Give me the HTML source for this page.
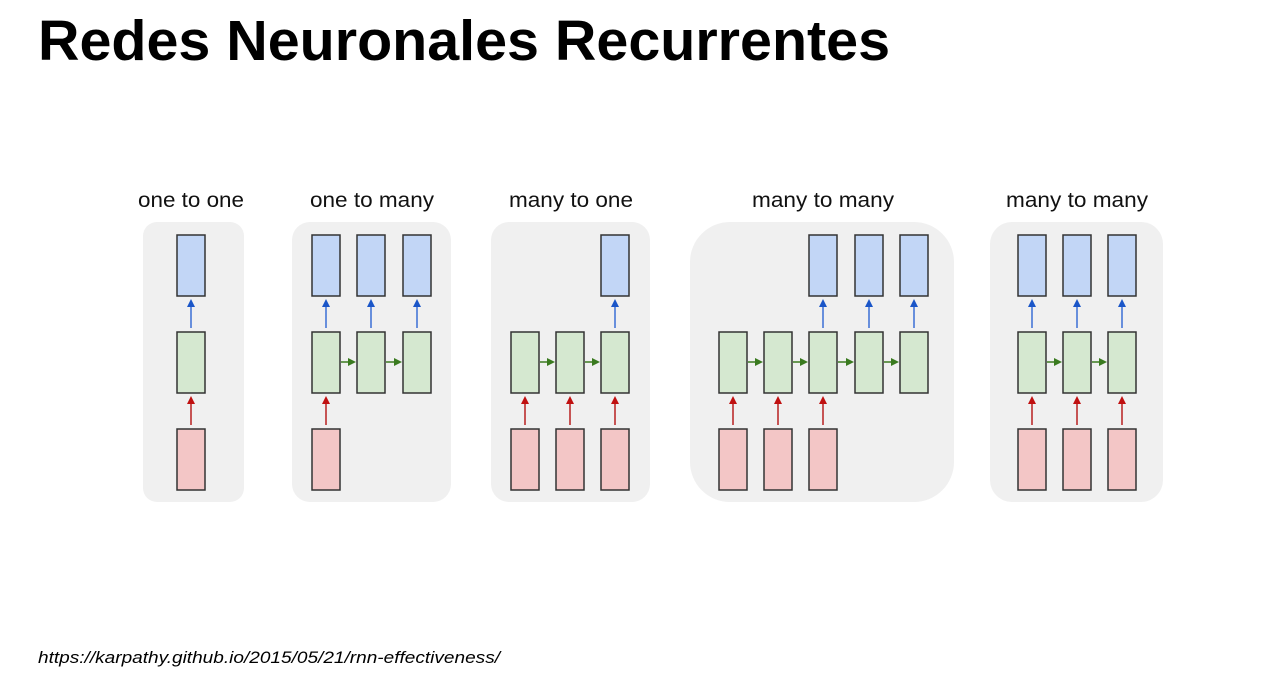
<!DOCTYPE html>
<html><head><meta charset="utf-8"><style>
body{margin:0;background:#fff;}
svg{display:block;}
</style></head><body>
<svg width="1286" height="687" viewBox="0 0 1286 687" xmlns="http://www.w3.org/2000/svg">
<defs>
<marker id="ab" markerWidth="8" markerHeight="8" refX="4" refY="4" orient="auto" markerUnits="userSpaceOnUse"><path d="M0,0 L8,4 L0,8z" fill="#1a56c8"/></marker>
<marker id="ar" markerWidth="8" markerHeight="8" refX="4" refY="4" orient="auto" markerUnits="userSpaceOnUse"><path d="M0,0 L8,4 L0,8z" fill="#c01010"/></marker>
<marker id="ag" markerWidth="8" markerHeight="8" refX="4" refY="4" orient="auto" markerUnits="userSpaceOnUse"><path d="M0,0 L8,4 L0,8z" fill="#3a7a1f"/></marker>
</defs>
<text x="38" y="60" font-family="Liberation Sans, sans-serif" font-size="57" font-weight="bold" textLength="852" lengthAdjust="spacingAndGlyphs" fill="#000">Redes Neuronales Recurrentes</text>
<g font-family="Liberation Sans, sans-serif" font-size="21" fill="#111" text-anchor="middle">
<text x="191" y="207" textLength="106" lengthAdjust="spacingAndGlyphs">one to one</text>
<text x="372" y="207" textLength="124" lengthAdjust="spacingAndGlyphs">one to many</text>
<text x="571" y="207" textLength="124" lengthAdjust="spacingAndGlyphs">many to one</text>
<text x="823" y="207" textLength="142" lengthAdjust="spacingAndGlyphs">many to many</text>
<text x="1077" y="207" textLength="142" lengthAdjust="spacingAndGlyphs">many to many</text>
</g>
<g fill="#f0f0f0">
<rect x="143" y="222" width="101" height="280" rx="14"/>
<rect x="292" y="222" width="159" height="280" rx="18"/>
<rect x="491" y="222" width="159" height="280" rx="18"/>
<rect x="690" y="222" width="264" height="280" rx="40"/>
<rect x="990" y="222" width="173" height="280" rx="22"/>
</g>
<g stroke="#333" stroke-width="1.5">
<g fill="#c2d6f6">
<rect x="177" y="235" width="28" height="61"/>
<rect x="312" y="235" width="28" height="61"/><rect x="357" y="235" width="28" height="61"/><rect x="403" y="235" width="28" height="61"/>
<rect x="601" y="235" width="28" height="61"/>
<rect x="809" y="235" width="28" height="61"/><rect x="855" y="235" width="28" height="61"/><rect x="900" y="235" width="28" height="61"/>
<rect x="1018" y="235" width="28" height="61"/><rect x="1063" y="235" width="28" height="61"/><rect x="1108" y="235" width="28" height="61"/>
</g>
<g fill="#d5e8d0">
<rect x="177" y="332" width="28" height="61"/>
<rect x="312" y="332" width="28" height="61"/><rect x="357" y="332" width="28" height="61"/><rect x="403" y="332" width="28" height="61"/>
<rect x="511" y="332" width="28" height="61"/><rect x="556" y="332" width="28" height="61"/><rect x="601" y="332" width="28" height="61"/>
<rect x="719" y="332" width="28" height="61"/><rect x="764" y="332" width="28" height="61"/><rect x="809" y="332" width="28" height="61"/><rect x="855" y="332" width="28" height="61"/><rect x="900" y="332" width="28" height="61"/>
<rect x="1018" y="332" width="28" height="61"/><rect x="1063" y="332" width="28" height="61"/><rect x="1108" y="332" width="28" height="61"/>
</g>
<g fill="#f3c6c6">
<rect x="177" y="429" width="28" height="61"/>
<rect x="312" y="429" width="28" height="61"/>
<rect x="511" y="429" width="28" height="61"/><rect x="556" y="429" width="28" height="61"/><rect x="601" y="429" width="28" height="61"/>
<rect x="719" y="429" width="28" height="61"/><rect x="764" y="429" width="28" height="61"/><rect x="809" y="429" width="28" height="61"/>
<rect x="1018" y="429" width="28" height="61"/><rect x="1063" y="429" width="28" height="61"/><rect x="1108" y="429" width="28" height="61"/>
</g>
</g>
<g stroke="#3a6fd6" stroke-width="1.5" marker-end="url(#ab)">
<line x1="191" y1="328" x2="191" y2="303"/>
<line x1="326" y1="328" x2="326" y2="303"/><line x1="371" y1="328" x2="371" y2="303"/><line x1="417" y1="328" x2="417" y2="303"/>
<line x1="615" y1="328" x2="615" y2="303"/>
<line x1="823" y1="328" x2="823" y2="303"/><line x1="869" y1="328" x2="869" y2="303"/><line x1="914" y1="328" x2="914" y2="303"/>
<line x1="1032" y1="328" x2="1032" y2="303"/><line x1="1077" y1="328" x2="1077" y2="303"/><line x1="1122" y1="328" x2="1122" y2="303"/>
</g>
<g stroke="#b82020" stroke-width="1.5" marker-end="url(#ar)">
<line x1="191" y1="425" x2="191" y2="400"/>
<line x1="326" y1="425" x2="326" y2="400"/>
<line x1="525" y1="425" x2="525" y2="400"/><line x1="570" y1="425" x2="570" y2="400"/><line x1="615" y1="425" x2="615" y2="400"/>
<line x1="733" y1="425" x2="733" y2="400"/><line x1="778" y1="425" x2="778" y2="400"/><line x1="823" y1="425" x2="823" y2="400"/>
<line x1="1032" y1="425" x2="1032" y2="400"/><line x1="1077" y1="425" x2="1077" y2="400"/><line x1="1122" y1="425" x2="1122" y2="400"/>
</g>
<g stroke="#3a7a1f" stroke-width="1.5" marker-end="url(#ag)">
<line x1="341" y1="362" x2="352" y2="362"/><line x1="386" y1="362" x2="398" y2="362"/>
<line x1="540" y1="362" x2="551" y2="362"/><line x1="585" y1="362" x2="596" y2="362"/>
<line x1="748" y1="362" x2="759" y2="362"/><line x1="793" y1="362" x2="804" y2="362"/><line x1="838" y1="362" x2="850" y2="362"/><line x1="884" y1="362" x2="895" y2="362"/>
<line x1="1047" y1="362" x2="1058" y2="362"/><line x1="1092" y1="362" x2="1103" y2="362"/>
</g>
<text x="38" y="663" font-family="Liberation Sans, sans-serif" font-size="17" font-style="italic" fill="#000" textLength="462" lengthAdjust="spacingAndGlyphs">https://karpathy.github.io/2015/05/21/rnn-effectiveness/</text>
</svg>
</body></html>
